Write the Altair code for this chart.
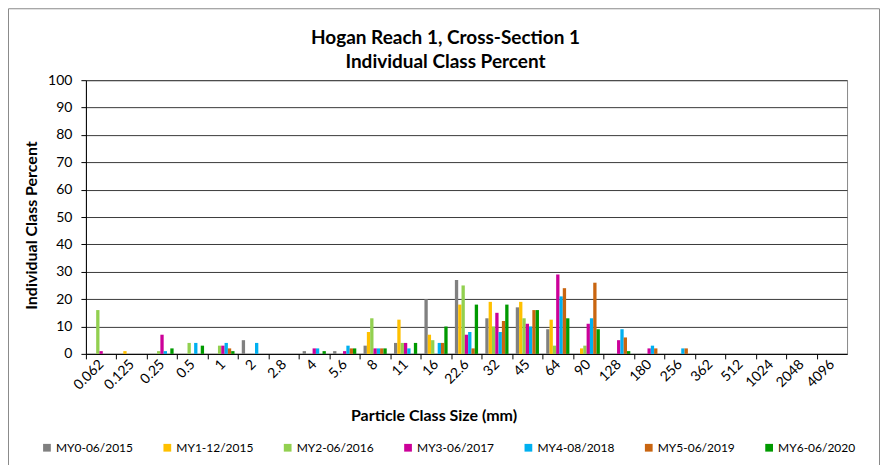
import altair as alt
import pandas as pd

categories = ["0.062", "0.125", "0.25", "0.5", "1", "2", "2.8", "4", "5.6", "8", "11", "16",
              "22.6", "32", "45", "64", "90", "128", "180", "256", "362", "512", "1024", "2048", "4096"]
series_names = ["MY0-06/2015", "MY1-12/2015", "MY2-06/2016", "MY3-06/2017",
                "MY4-08/2018", "MY5-06/2019", "MY6-06/2020"]
colors = ["#808080", "#FFC000", "#92D050", "#CC0099", "#00B0F0", "#C96510", "#009A00"]

my0 = [0, 0, 0, 0, 0, 5, 0, 1, 1, 3, 4, 20, 27, 13, 17, 9, 0, 0, 0, 0, 0, 0, 0, 0, 0]
my1 = [0, 1, 0, 0, 0, 0, 0, 0, 0, 8, 12.5, 7, 18, 19, 19, 12.5, 2, 0, 0, 0, 0, 0, 0, 0, 0]
my2 = [16, 0, 1, 4, 3, 0, 0, 0, 0, 13, 4, 5, 25, 10, 13, 3, 3, 0, 0, 0, 0, 0, 0, 0, 0]
my3 = [1, 0, 7, 0, 3, 0, 0, 2, 1, 2, 4, 0, 7, 15, 11, 29, 11, 5, 2, 0, 0, 0, 0, 0, 0]
my4 = [0, 0, 1, 4, 4, 4, 0, 2, 3, 2, 2, 4, 8, 8, 10, 21, 13, 9, 3, 2, 0, 0, 0, 0, 0]
my5 = [0, 0, 0, 0, 2, 0, 0, 0, 2, 2, 0, 4, 2, 12, 16, 24, 26, 6, 2, 2, 0, 0, 0, 0, 0]
my6 = [0, 0, 2, 3, 1, 0, 0, 1, 2, 2, 4, 10, 18, 18, 16, 13, 9, 1, 0, 0, 0, 0, 0, 0, 0]

all_series = [my0, my1, my2, my3, my4, my5, my6]
rows = []
for name, vals in zip(series_names, all_series):
    for c, v in zip(categories, vals):
        rows.append({"cat": c, "series": name, "value": v})
df = pd.DataFrame(rows)

FONT = "Lato"
W, H = 762, 274
step = W / len(categories)
pin = 2.19 / 9.19

bars = alt.Chart(df).mark_bar().encode(
    x=alt.X("cat:N", sort=categories,
            scale=alt.Scale(domain=categories, paddingInner=pin, paddingOuter=pin / 2),
            axis=alt.Axis(title="Particle Class Size (mm)", tickOffset=-step / 2, labelOffset=step / 2,
                          labelAngle=315, labelAlign="right", labelBaseline="middle",
                          labelPadding=3, tickSize=5, tickColor="#000", domainColor="#000",
                          labelFontSize=14, labelColor="#000", grid=False,
                          titleFontSize=16, titleFontWeight="bold", titleColor="#000",
                          titleX=348, titleY=62, titleAnchor="middle", titleBaseline="middle")),
    xOffset=alt.XOffset("series:N", sort=series_names,
                        scale=alt.Scale(domain=series_names, paddingInner=0, paddingOuter=0)),
    y=alt.Y("value:Q",
            scale=alt.Scale(domain=[0, 100], nice=False),
            axis=alt.Axis(title="Individual Class Percent", values=list(range(0, 101, 10)),
                          tickSize=5, tickColor="#000", domainColor="#000", labelPadding=9,
                          labelFontSize=14, labelColor="#000",
                          grid=True, gridColor="#3a3a3a", gridWidth=1,
                          titleFontSize=16, titleFontWeight="bold", titleColor="#000",
                          titleX=-54, titleY=145, titleAngle=270, titleAlign="center",
                          titleBaseline="middle")),
    color=alt.Color("series:N", sort=series_names,
                    scale=alt.Scale(domain=series_names, range=colors),
                    legend=alt.Legend(title=None, orient="none", legendX=-45, legendY=362,
                                      direction="horizontal", columns=7, gridAlign="all",
                                      columnPadding=27.5, symbolType="square", symbolSize=60,
                                      symbolStrokeWidth=0, labelFontSize=12, labelColor="#000",
                                      labelOffset=3, padding=0)),
)

frame = alt.Chart(pd.DataFrame({"a": [0]})).mark_rect(
    fill=None, stroke="#8a8a8a", strokeWidth=1
).encode(
    x=alt.value(-77.5), x2=alt.value(794.5), y=alt.value(-71.5), y2=alt.value(420)
)

chart = alt.layer(bars, frame).properties(
    width=W, height=H,
    padding={"left": 78, "top": 72, "right": 33, "bottom": 112},
    autosize=alt.AutoSizeParams(type="none"),
    title=alt.TitleParams(text=["Hogan Reach 1, Cross-Section 1", "Individual Class Percent"],
                          font=FONT, fontSize=19, fontWeight="bold", color="#000",
                          anchor="middle", dx=-21, dy=71.5, lineHeight=24, offset=8),
).configure(font=FONT).configure_view(stroke="#8a8a8a", strokeWidth=1)

chart.save("out.html", embed_options={"renderer": "svg", "actions": False})
